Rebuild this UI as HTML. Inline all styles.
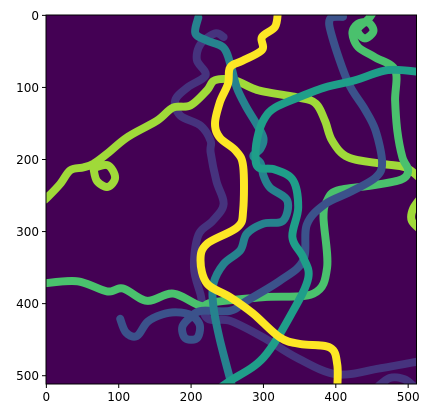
<!DOCTYPE html>
<html><head><meta charset="utf-8"><style>
html,body{margin:0;padding:0;background:#fff;}
svg{display:block;}
text{font-family:"DejaVu Sans","Liberation Sans",sans-serif;font-size:12px;fill:#000;}
</style></head><body>
<svg id="chart" width="430" height="418" viewBox="0 0 430 418">
<defs><clipPath id="clip"><rect x="46" y="15" width="370.5" height="369"/></clipPath></defs>
<rect x="46" y="15" width="370.5" height="369" fill="#440154"/>
<g id="lines" clip-path="url(#clip)"></g>
<rect x="46" y="15" width="370.5" height="369" fill="none" stroke="#000" stroke-width="1"/>
<g id="ticks"></g>
</svg>
<script>
const xTicks=[0,100,200,300,400,500];
const yTicks=[0,100,200,300,400,500];
const purpleCurve=[[245,30],[233,25],[213,40],[208,62],[220,83],[195,100],[178,118],[185,139],[213,153],[227,174],[227,190],[235,230],[245,262],[230,285],[210,305],[204,350],[213,387],[222,420],[254,424],[300,447],[346,475],[401,498],[460,490],[515,480]];
const purpleArc=[[458,515],[475,503],[495,505],[508,515]];
const blueCurve=[[410,2],[392,5],[395,30],[417,93],[440,130],[455,160],[464,204],[455,225],[420,245],[385,262],[360,290],[355,340],[323,368],[277,396],[254,410],[215,410],[200,418],[188,432],[192,448],[208,448],[212,430],[200,416],[180,412],[160,415],[140,425],[125,445],[110,440],[102,421]];
const teal1Curve=[[210,3],[206,25],[222,35],[245,45],[255,70],[263,100],[275,125],[290,150],[300,170],[296,185],[286,195],[296,205],[300,222],[309,239],[333,257],[327,285],[300,289],[277,303],[268,326],[245,345],[231,372],[231,405],[240,451],[258,520]];
const teal2Curve=[[520,79],[472,76],[427,90],[385,100],[348,114],[316,128],[302,142],[293,164],[289,192],[293,211],[316,214],[341,229],[348,267],[340,308],[355,336],[362,364],[341,410],[300,475],[254,507],[235,520]];
const greenCurve=[[-5,372],[43,369],[84,383],[106,379],[139,396],[175,386],[213,403],[231,398],[300,391],[369,386],[388,350],[383,280],[388,257],[402,243],[450,236],[490,228],[500,215],[492,197],[485,160],[482,118],[482,76],[454,58],[431,44],[423,25],[430,12],[445,10],[452,22],[440,32],[430,20],[445,5],[452,-5]];
const limeCurve=[[-5,258],[1,253],[19,234],[33,215],[51,211],[65,206],[84,192],[112,169],[153,146],[175,128],[199,125],[222,104],[233,90],[260,90],[293,104],[348,114],[372,122],[385,146],[395,174],[417,197],[464,206],[496,211],[515,225]];
const limeLoop=[[65,212],[70,230],[85,238],[95,225],[85,208],[65,212]];
const limeEdge=[[520,250],[507,268],[505,285],[520,300]];
const yellowCurve=[[320,-5],[316,16],[298,30],[298,48],[271,63],[254,72],[251,95],[240,120],[233,150],[240,170],[262,188],[272,210],[272,270],[264,294],[222,317],[213,340],[222,372],[254,391],[286,414],[323,447],[351,456],[392,461],[402,484],[402,520]];

const X=v=>46+(v+0.5)*0.7236;
const Y=v=>15+(v+0.5)*0.7207;
const SW=11*0.7236;
function pathD(pts){
  const p=pts.map(q=>[X(q[0]),Y(q[1])]);
  let d='M'+p[0][0].toFixed(1)+','+p[0][1].toFixed(1);
  for(let i=0;i<p.length-1;i++){
    const p0=p[i-1]||p[i],p1=p[i],p2=p[i+1],p3=p[i+2]||p2;
    const c1=[p1[0]+(p2[0]-p0[0])/6,p1[1]+(p2[1]-p0[1])/6];
    const c2=[p2[0]-(p3[0]-p1[0])/6,p2[1]-(p3[1]-p1[1])/6];
    d+='C'+c1.map(v=>v.toFixed(1)).join(',')+' '+c2.map(v=>v.toFixed(1)).join(',')+' '+p2[0].toFixed(1)+','+p2[1].toFixed(1);
  }
  return d;
}
const NS='http://www.w3.org/2000/svg';
const g=document.getElementById('lines');
function draw(pts,color,name){
  const el=document.createElementNS(NS,'path');
  el.setAttribute('d',pathD(pts));
  el.setAttribute('fill','none');
  el.setAttribute('stroke',color);
  el.setAttribute('stroke-width',SW);
  el.setAttribute('stroke-linecap','round');
  el.setAttribute('stroke-linejoin','round');
  
  
  g.appendChild(el);
}
draw(purpleCurve,'#46337e','purple-curve');
draw(purpleArc,'#46337e','purple-arc');
draw(limeCurve,'#a0da39','lime-curve');
draw(limeLoop,'#a0da39','lime-loop');
draw(limeEdge,'#a0da39','lime-edge');
draw(greenCurve,'#4ac16d','green-curve');
draw(blueCurve,'#3b528b','blue-curve');
draw(teal1Curve,'#26828e','teal-curve-a');
draw(teal2Curve,'#1f9e89','teal-curve-b');
draw(yellowCurve,'#fde725','yellow-curve');

const t=document.getElementById('ticks');
xTicks.forEach(v=>{
  const x=X(v);
  const l=document.createElementNS(NS,'line');
  l.setAttribute('x1',x);l.setAttribute('x2',x);l.setAttribute('y1',384);l.setAttribute('y2',388);
  l.setAttribute('stroke','#000');
  
  
  t.appendChild(l);
  const tx=document.createElementNS(NS,'text');
  tx.setAttribute('x',x);tx.setAttribute('y',401);tx.setAttribute('text-anchor','middle');
  tx.textContent=v;
  
  
  t.appendChild(tx);
});
yTicks.forEach(v=>{
  const y=Y(v);
  const l=document.createElementNS(NS,'line');
  l.setAttribute('x1',42);l.setAttribute('x2',46);l.setAttribute('y1',y);l.setAttribute('y2',y);
  l.setAttribute('stroke','#000');
  
  
  t.appendChild(l);
  const tx=document.createElementNS(NS,'text');
  tx.setAttribute('x',39);tx.setAttribute('y',y+4.5);tx.setAttribute('text-anchor','end');
  tx.textContent=v;
  
  
  t.appendChild(tx);
});
</script>
</body></html>
